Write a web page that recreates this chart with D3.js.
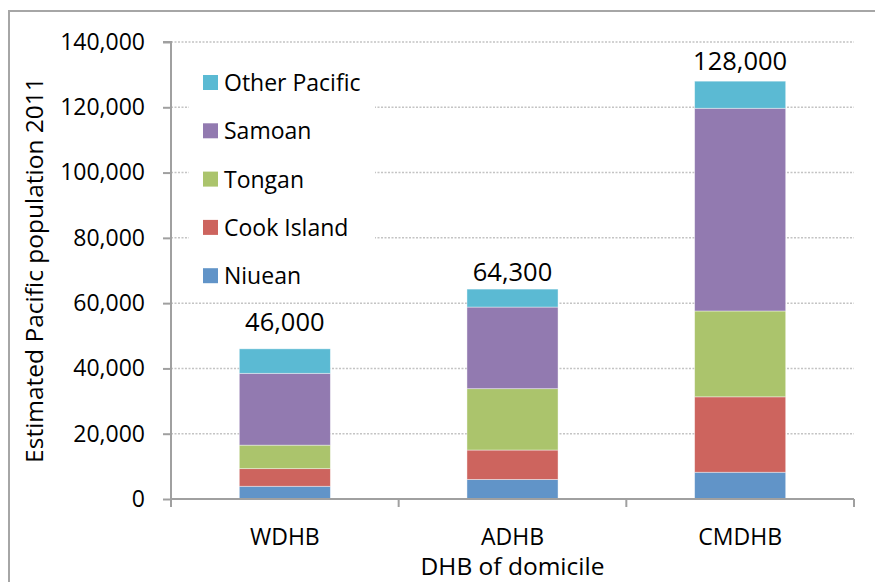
<!DOCTYPE html>
<html><head><meta charset="utf-8">
<script src="https://cdn.jsdelivr.net/npm/d3@7"></script>
<style>body{margin:0;background:#fff;}svg{display:block;font-family:"Open Sans",sans-serif;}</style>
</head><body><svg id="c" width="875" height="582"></svg>
<script>
const categories = ["WDHB", "ADHB", "CMDHB"];
const seriesNames = ["Niuean", "Cook Island", "Tongan", "Samoan", "Other Pacific"];
const niuean = [3900, 6000, 8200];
const cookIsland = [5400, 9000, 23100];
const tongan = [7200, 18800, 26300];
const samoan = [22000, 25000, 62100];
const otherPacific = [7500, 5500, 8300];
const totalLabels = ["46,000", "64,300", "128,000"];
const yTicks = [0, 20000, 40000, 60000, 80000, 100000, 120000, 140000];
const colors = ["#6194c8", "#cd645e", "#abc46c", "#927ab0", "#5bbad3"];
const labelGap = [18, 8, 11];

const svg = d3.select("#c");
const m = {l: 171, r: 854, t: 42, b: 499};

// outer frame (partially visible)
svg.append("rect").attr("x", 9).attr("y", 11).attr("width", 900).attr("height", 620)
  .attr("fill", "none").attr("stroke", "#a6a6a6").attr("stroke-width", 2);

const x = d3.scaleBand().domain(categories).range([m.l, m.r]).paddingInner(0.6).paddingOuter(0.3);
const y = d3.scaleLinear().domain([0, 140000]).range([m.b, m.t]);

// gridlines
svg.append("g").selectAll("line").data(yTicks.slice(1)).join("line")
  .attr("x1", m.l).attr("x2", m.r).attr("y1", d => y(d)).attr("y2", d => y(d))
  .attr("stroke", "#c4c4c4").attr("stroke-width", 1.5).attr("stroke-dasharray", "2,1.5");

// legend background
svg.append("rect").attr("x", 189).attr("y", 62).attr("width", 186).attr("height", 235).attr("fill", "#fff");

// stacks
const rows = categories.map((c, i) => ({cat: c, "Niuean": niuean[i], "Cook Island": cookIsland[i], "Tongan": tongan[i], "Samoan": samoan[i], "Other Pacific": otherPacific[i]}));
const stack = d3.stack().keys(seriesNames)(rows);
svg.append("g").selectAll("g").data(stack).join("g").attr("fill", (d, i) => colors[i])
  .selectAll("rect").data(d => d).join("rect")
  .attr("x", d => x(d.data.cat)).attr("width", x.bandwidth())
  .attr("y", d => y(d[1])).attr("height", d => y(d[0]) - y(d[1]))
  .attr("stroke", "#ffffff").attr("stroke-opacity", 0.5).attr("stroke-width", 0.8);

// total labels
const totals = categories.map((c, i) => niuean[i] + cookIsland[i] + tongan[i] + samoan[i] + otherPacific[i]);
svg.append("g").selectAll("text").data(categories).join("text")
  .attr("x", d => x(d) + x.bandwidth() / 2)
  .attr("y", (d, i) => y(totals[i]) - labelGap[i])
  .attr("text-anchor", "middle").attr("font-size", 25.5).attr("fill", "#000")
  .text((d, i) => totalLabels[i]);

// y axis
const yAxis = svg.append("g").attr("transform", `translate(${m.l},0)`)
  .call(d3.axisLeft(y).tickValues(yTicks).tickSize(8).tickPadding(18).tickFormat(d3.format(",")));
yAxis.selectAll("line,path").attr("stroke", "#a0a0a0").attr("stroke-width", 2);
yAxis.select(".domain").attr("d", `M-8,${m.t}H0V${m.b}`);
yAxis.selectAll("text").attr("font-size", 23).attr("fill", "#000").attr("font-family", "Open Sans");

// x axis
const xAxis = svg.append("g").attr("transform", `translate(0,${m.b})`);
xAxis.append("line").attr("x1", m.l).attr("x2", m.r).attr("stroke", "#a0a0a0").attr("stroke-width", 2);
const bounds = d3.range(categories.length + 1).map(i => m.l + (m.r - m.l) * i / categories.length);
xAxis.selectAll("line.t").data(bounds).join("line").attr("class", "t")
  .attr("x1", d => d).attr("x2", d => d).attr("y1", 0).attr("y2", 8)
  .attr("stroke", "#a0a0a0").attr("stroke-width", 2);
xAxis.selectAll("text").data(categories).join("text")
  .attr("x", d => x(d) + x.bandwidth() / 2).attr("y", 46)
  .attr("text-anchor", "middle").attr("font-size", 23).attr("fill", "#000").text(d => d);

// axis titles
svg.append("text").attr("x", (m.l + m.r) / 2).attr("y", 575).attr("text-anchor", "middle")
  .attr("font-size", 24.5).attr("fill", "#000").text("DHB of domicile");
svg.append("text").attr("transform", "translate(43,270) rotate(-90)").attr("text-anchor", "middle")
  .attr("font-size", 24.5).attr("fill", "#000").text("Estimated Pacific population 2011");

// legend
const legendOrder = seriesNames.map((n, i) => ({n, c: colors[i]})).reverse();
const lg = svg.append("g").selectAll("g").data(legendOrder).join("g")
  .attr("transform", (d, i) => `translate(203,${75 + i * 48.3})`);
lg.append("rect").attr("width", 15).attr("height", 15).attr("fill", d => d.c);
lg.append("text").attr("x", 21).attr("y", 16).attr("font-size", 23).attr("fill", "#000").text(d => d.n);
</script></body></html>
